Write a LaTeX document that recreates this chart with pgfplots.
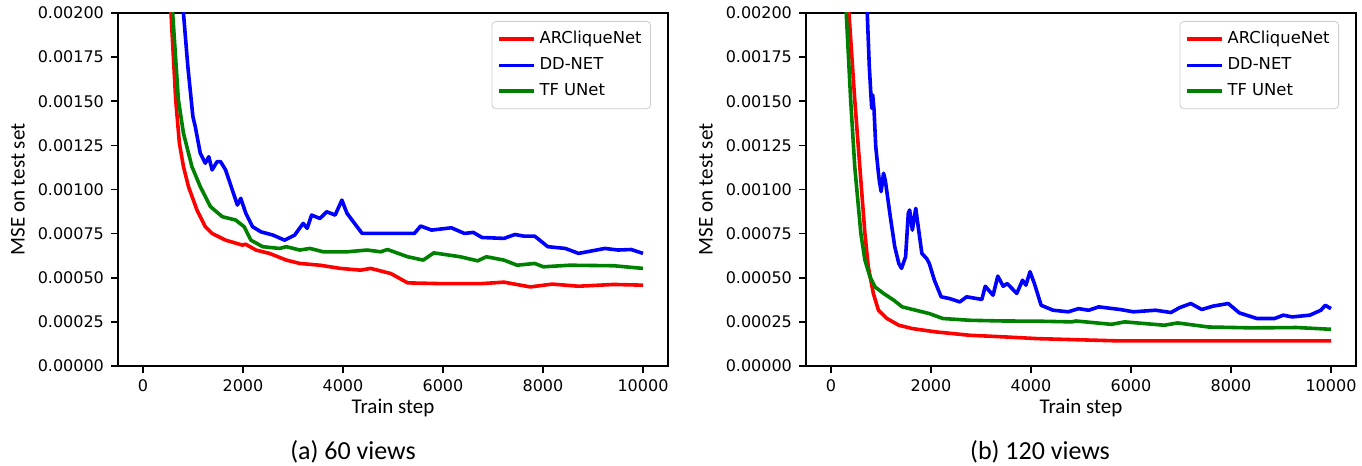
\documentclass[border=0pt]{standalone}
\usepackage{fontspec}
\setmainfont{DejaVu Sans}
\newfontfamily\calfont{Carlito}
\usepackage{pgfplots}
\pgfplotsset{compat=1.18}

\definecolor{mplred}{RGB}{255,0,0}
\definecolor{mplblue}{RGB}{0,0,255}
\definecolor{mplgreen}{RGB}{0,128,0}

\pgfplotsset{
  mseaxis/.style={
    scale only axis,
    width=275pt, height=176.5pt,
    anchor=south west,
    xmin=-500, xmax=10500,
    ymin=0, ymax=0.002,
    xtick={0,2000,4000,6000,8000,10000},
    ytick={0,0.00025,0.0005,0.00075,0.001,0.00125,0.0015,0.00175,0.002},
    scaled y ticks=false,
    scaled x ticks=false,
    xticklabel style={/pgf/number format/1000 sep={}},
    yticklabel style={/pgf/number format/fixed, /pgf/number format/fixed zerofill, /pgf/number format/precision=5},
    /pgf/number format/assume math mode=true,
    tick label style={font=\fontsize{8}{9.6}\selectfont},
    tick align=outside, xtick pos=left, ytick pos=left,
    major tick length=3.5pt,
    tick style={black, line width=0.8pt},
    axis line style={black, line width=0.8pt},
    xlabel={\calfont Train step},
    ylabel={\calfont MSE on test set},
    label style={font=\fontsize{10.5}{12}\selectfont},
    xlabel style={at={(axis description cs:0.5,0)}, anchor=center, yshift=-21pt},
    ylabel style={at={(axis description cs:-0.182,0.5)}, anchor=center},
    legend style={at={(1,1)}, anchor=north east, xshift=-8.5pt, yshift=-4pt,
      draw=black!20, rounded corners=2pt, font=\fontsize{8.2}{9.8}\selectfont,
      row sep=1.5pt, inner xsep=2.5pt, inner ysep=3pt, cells={anchor=west}},
    legend image code/.code={\draw[#1] (0pt,0pt) -- (17.5pt,0pt);},
    every axis plot/.append style={line width=1.8pt, line join=round},
  }
}

\begin{document}
\begin{tikzpicture}
\useasboundingbox (-59pt,-50pt) rectangle (622pt,183pt);

% (a) 60 views
\begin{axis}[mseaxis, at={(0pt,0pt)}]
\addplot[mplred] coordinates {
(450,0.0028) (560,0.0020) (654,0.001508) (728,0.001262) (809,0.00113) (910,0.001016)
(1079,0.000884) (1247,0.000789) (1382,0.000751) (1652,0.000713) (1989,0.000685)
(2050,0.000690) (2259,0.000657) (2529,0.000638) (2866,0.0006) (3136,0.000581) (3540,0.000571)
(3945,0.000553) (4350,0.000543) (4552,0.000553) (4956,0.000524) (5293,0.000471)
(5904,0.000467) (6781,0.000467) (7219,0.000475) (7746,0.000448) (8184,0.000464)
(8711,0.000452) (9412,0.000462) (10000,0.000458)
};
\addlegendentry{ARCliqueNet}
\addplot[mplblue] coordinates {
(700,0.0028) (809,0.0020) (897,0.001697) (998,0.001413) (1045,0.001357) (1146,0.001205)
(1247,0.001149) (1315,0.001186) (1382,0.001111) (1483,0.001158) (1551,0.001158)
(1652,0.001111) (1787,0.000997) (1888,0.000912) (1955,0.00095) (2057,0.000865)
(2192,0.000789) (2360,0.00076) (2596,0.000742) (2832,0.000713) (3034,0.000742)
(3203,0.000808) (3284,0.00078) (3372,0.000855) (3540,0.000836) (3675,0.000874)
(3843,0.000855) (3978,0.00094) (4080,0.000865) (4383,0.000751) (4754,0.000751)
(5428,0.000751) (5553,0.000793) (5772,0.00077) (6167,0.000783) (6430,0.000751)
(6605,0.000757) (6781,0.000728) (7219,0.000723) (7439,0.000745) (7614,0.000736)
(7833,0.000736) (8096,0.000676) (8447,0.000666) (8711,0.000638) (9237,0.000666)
(9500,0.000657) (9763,0.000660) (10000,0.000638)
};
\addlegendentry{DD-NET}
\addplot[mplgreen] coordinates {
(480,0.0028) (593,0.0020) (708,0.001508) (809,0.001319) (978,0.00113) (1146,0.001016)
(1349,0.000903) (1585,0.000846) (1854,0.000827) (2023,0.000789) (2158,0.000713)
(2394,0.000676) (2731,0.000666) (2866,0.000676) (3136,0.000657) (3338,0.000666)
(3607,0.000647) (4080,0.000647) (4484,0.000657) (4754,0.000647) (4889,0.00066)
(5293,0.000619) (5605,0.0006) (5816,0.000641) (6342,0.000619) (6693,0.000596)
(6868,0.000619) (7219,0.0006) (7482,0.000571) (7833,0.000581) (8009,0.000562)
(8535,0.000571) (9412,0.000568) (10000,0.000553)
};
\addlegendentry{TF UNet}
\end{axis}
\node[font=\calfont\fontsize{13}{15}\selectfont] at (117.5pt,-43pt) {(a) 60 views};

% (b) 120 views
\begin{axis}[mseaxis, at={(344pt,0pt)}]
\addplot[mplred] coordinates {
(280,0.0028) (359,0.0020) (475,0.001508) (576,0.00113) (678,0.000751) (746,0.000562)
(847,0.000411) (949,0.000316) (1119,0.000269) (1356,0.000231) (1627,0.000212)
(2102,0.000193) (2780,0.000174) (3458,0.000165) (4136,0.000155) (4903,0.000149)
(5785,0.000142) (7549,0.000142) (10000,0.000142)
};
\addlegendentry{ARCliqueNet}
\addplot[mplblue] coordinates {
(680,0.0028) (725,0.0020) (766,0.001697) (800,0.001527) (814,0.001461) (834,0.001536)
(861,0.001451) (895,0.001243) (949,0.001092) (969,0.001045) (1003,0.000988)
(1051,0.001092) (1085,0.001054) (1186,0.000846) (1275,0.000676) (1356,0.000581)
(1410,0.000553) (1492,0.000619) (1546,0.000865) (1573,0.000884) (1627,0.00077)
(1695,0.000893) (1763,0.000751) (1817,0.000638) (1912,0.000609) (1966,0.000581)
(2068,0.000486) (2203,0.000392) (2373,0.000382) (2576,0.000363) (2712,0.000392)
(2915,0.000382) (3017,0.000377) (3085,0.000452) (3241,0.000401) (3336,0.000509)
(3444,0.000452) (3525,0.000467) (3715,0.000411) (3831,0.000486) (3898,0.000458)
(3980,0.000534) (4068,0.000467) (4203,0.000344) (4441,0.000316) (4746,0.000307)
(4949,0.000325) (5153,0.000316) (5356,0.000335) (5785,0.00032) (6049,0.000307)
(6490,0.000316) (6799,0.000303) (6975,0.000331) (7196,0.000354) (7416,0.00032)
(7637,0.000339) (7945,0.000354) (8166,0.000301) (8519,0.000269) (8871,0.000269)
(9048,0.000288) (9224,0.000278) (9577,0.000288) (9797,0.000316) (9885,0.000344)
(10000,0.000325)
};
\addlegendentry{DD-NET}
\addplot[mplgreen] coordinates {
(230,0.0028) (305,0.0020) (393,0.001508) (475,0.00113) (597,0.000751) (678,0.0006)
(780,0.000505) (881,0.000448) (1051,0.000411) (1254,0.000373) (1424,0.000335)
(1695,0.000316) (1966,0.000297) (2237,0.000269) (2780,0.000259) (3458,0.000255)
(4136,0.000254) (4814,0.00025) (4903,0.000255) (5608,0.000236) (5873,0.00025)
(6667,0.000231) (6931,0.000244) (7549,0.000221) (8430,0.000216) (9312,0.000218)
(10000,0.000208)
};
\addlegendentry{TF UNet}
\end{axis}
\node[font=\calfont\fontsize{13}{15}\selectfont] at (461pt,-43pt) {(b) 120 views};
\end{tikzpicture}
\end{document}
